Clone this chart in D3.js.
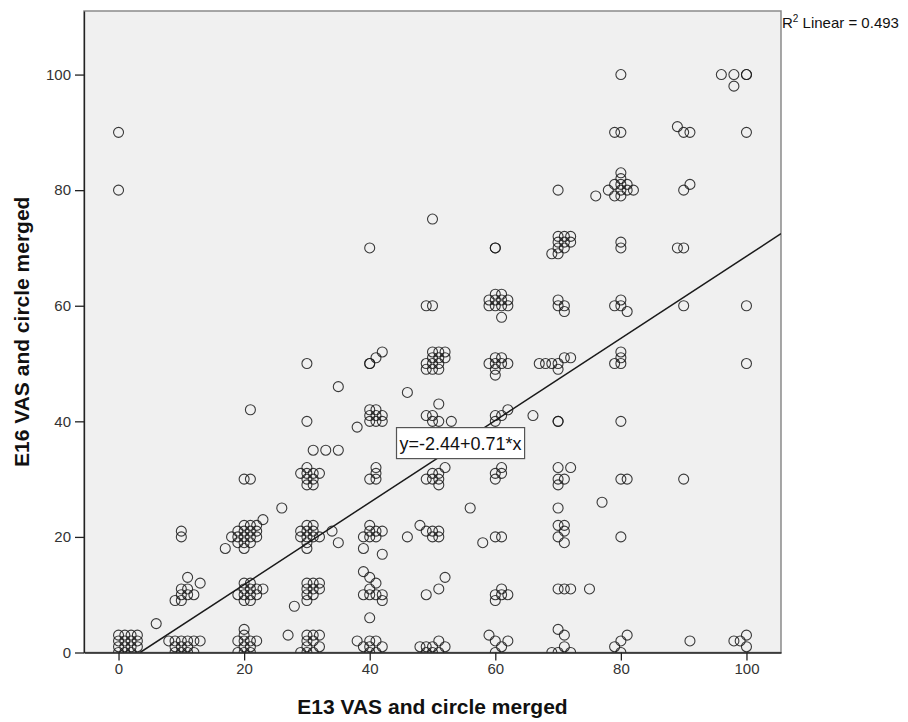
<!DOCTYPE html>
<html>
<head>
<meta charset="utf-8">
<script src="https://cdn.jsdelivr.net/npm/d3@7"></script>
<style>
  body { margin: 0; background: #fff; }
  svg { display: block; font-family: Arial, "Liberation Sans", sans-serif; }
</style>
</head>
<body>
<svg id="chart" width="908" height="722"></svg>
<script>
// E13 vs E16 VAS (merged), one [x, y] pair per respondent
var points = [
  [0,90],[0,80],
  [0,0],[0,1],[0,2],[0,3],[1,0],[1,1],[1,2],[1,3],[2,0],[2,1],[2,2],[2,3],[3,1],[3,2],[3,3],
  [6,5],
  [8,2],[9,0],[9,1],[9,2],[10,0],[10,1],[10,2],[11,0],[11,1],[11,2],[12,0],[12,2],[13,2],
  [9,9],[10,9],[10,10],[10,11],[11,11],[11,13],[12,10],[13,12],[11,10],
  [10,20],[10,21],
  [19,0],[20,0],[21,0],[19,2],[20,1],[20,2],[21,1],[21,2],[22,2],[20,3],[20,4],
  [19,10],[20,9],[20,10],[20,11],[21,10],[21,11],[21,12],[22,10],[22,11],[23,11],[21,9],[20,12],
  [17,18],[18,20],[19,19],[19,20],[19,21],[20,19],[20,20],[20,21],[20,22],[21,19],[21,20],
  [21,21],[21,22],[22,20],[22,21],[22,22],[23,23],[20,18],
  [20,30],[21,30],[21,42],[26,25],[27,3],[28,8],
  [29,0],[30,0],[30,1],[30,2],[31,0],[31,2],[31,3],[32,1],[32,3],[30,3],
  [30,9],[30,10],[30,11],[31,10],[31,11],[31,12],[32,11],[32,12],[30,12],
  [29,20],[30,18],[30,19],[30,20],[30,21],[30,22],[31,20],[31,21],[31,22],[32,20],[29,21],
  [29,31],[30,29],[30,30],[30,31],[30,32],[31,29],[31,30],[31,31],[32,31],
  [30,40],[30,50],[31,35],[33,35],[35,35],[35,46],[34,21],[35,19],
  [38,39],[40,40],[40,41],[40,42],[41,40],[41,41],[41,42],[42,40],[42,41],
  [40,30],[41,30],[41,31],[41,32],
  [39,20],[40,20],[40,21],[40,22],[41,20],[41,21],[42,21],[39,18],[42,17],[39,14],
  [40,13],[41,12],[39,10],[40,10],[41,10],[42,10],[42,9],[40,11],[40,6],
  [38,2],[39,1],[40,0],[40,2],[41,0],[41,2],[42,1],[40,1],
  [40,70],[40,50],[40,50],[41,51],[42,52],[46,45],
  [49,41],[50,40],[50,41],[51,40],[51,43],[53,40],
  [49,30],[50,30],[51,30],[51,31],[52,32],[51,29],[50,31],
  [46,20],[48,22],[49,21],[50,20],[50,21],[51,20],[51,21],
  [49,10],[51,11],[52,13],
  [48,1],[49,1],[50,0],[50,1],[51,0],[51,2],[52,1],[49,0],
  [49,49],[49,50],[50,49],[50,50],[50,51],[50,52],[51,50],[51,51],[51,52],[52,51],[52,52],[51,49],
  [49,60],[50,60],[50,75],
  [56,25],
  [60,70],[60,70],
  [59,60],[59,61],[60,60],[60,61],[60,62],[61,60],[61,61],[61,62],[62,60],[62,61],[61,58],
  [59,50],[60,48],[60,49],[60,50],[60,51],[61,50],[61,51],[62,50],
  [60,40],[60,41],[61,41],[62,42],
  [60,30],[60,31],[61,31],[61,32],
  [58,19],[60,20],[61,20],
  [60,9],[60,10],[61,11],[62,10],[61,10],
  [59,3],[60,2],[62,2],[61,1],[60,0],
  [66,41],
  [70,80],
  [69,69],[70,69],[70,70],[70,71],[70,72],[71,70],[71,71],[71,72],[72,71],[72,72],
  [70,60],[70,61],[71,60],[71,59],
  [67,50],[68,50],[69,50],[70,49],[70,50],[71,51],[72,51],
  [70,40],[70,40],
  [70,32],[72,32],[70,30],[71,30],[70,29],
  [70,25],[77,26],
  [70,22],[71,22],[71,21],[70,20],[71,19],
  [70,11],[71,11],[72,11],[75,11],
  [70,4],[71,3],[71,1],[69,0],[70,0],[72,0],
  [80,100],[79,90],[80,90],[76,79],
  [78,80],[79,79],[79,81],[80,79],[80,80],[80,81],[80,82],[80,83],[81,81],[82,80],[81,80],
  [80,70],[80,71],
  [79,60],[80,60],[80,61],[81,59],
  [79,50],[80,50],[80,51],[80,52],
  [80,40],[80,30],[81,30],[80,20],
  [80,2],[81,3],[79,1],[80,0],
  [89,91],[90,90],[91,90],[90,80],[91,81],[89,70],[90,70],[90,60],[90,30],[91,2],
  [96,100],[98,100],[98,98],[100,100],[100,100],[100,90],[100,60],[100,50],
  [98,2],[99,2],[100,3],[100,1]
];

var xTicks = [0, 20, 40, 60, 80, 100];
var yTicks = [0, 20, 40, 60, 80, 100];

var xTitle = 'E13 VAS and circle merged';
var yTitle = 'E16 VAS and circle merged';

// linear fit as printed on the chart
var fitIntercept = -2.44;
var fitSlope = 0.71;
var fitR2 = 0.493;

var PLOT_LEFT = 84;
var PLOT_RIGHT = 781;
var PLOT_TOP = 11;
var PLOT_BOTTOM = 652.5;

var svg = d3.select('#chart');

var x = d3.scaleLinear().domain([-5.5, 105.5]).range([PLOT_LEFT, PLOT_RIGHT]);
var y = d3.scaleLinear().domain([0, 111]).range([PLOT_BOTTOM, PLOT_TOP]);

svg.append('rect')
  .attr('x', PLOT_LEFT)
  .attr('y', PLOT_TOP)
  .attr('width', PLOT_RIGHT - PLOT_LEFT)
  .attr('height', PLOT_BOTTOM - PLOT_TOP)
  .style('fill', '#f0f0f0')
  .style('stroke', '#8a8a8a')
  .style('stroke-width', 1.5);

svg.append('clipPath').attr('id', 'plotclip')
  .append('rect')
  .attr('x', PLOT_LEFT)
  .attr('y', PLOT_TOP)
  .attr('width', PLOT_RIGHT - PLOT_LEFT)
  .attr('height', PLOT_BOTTOM - PLOT_TOP);

// axes
var xAxis = svg.append('g')
  .attr('transform', 'translate(0,' + PLOT_BOTTOM + ')')
  .call(d3.axisBottom(x).tickValues(xTicks).tickSize(8).tickPadding(3).tickSizeOuter(0));
var yAxis = svg.append('g')
  .attr('transform', 'translate(' + PLOT_LEFT + ',0)')
  .call(d3.axisLeft(y).tickValues(yTicks).tickSize(9).tickPadding(4).tickSizeOuter(0));

[xAxis, yAxis].forEach(function(g) {
  g.select('.domain').style('stroke', '#222').style('stroke-width', 1.3);
  g.selectAll('.tick line').style('stroke', '#222').style('stroke-width', 1.3);
  g.selectAll('.tick text')
    .style('font-family', 'Arial, "Liberation Sans", sans-serif')
    .style('font-size', '15px')
    .style('fill', '#333');
});

// data points
svg.append('g')
  .attr('clip-path', 'url(#plotclip)')
  .selectAll('circle')
  .data(points)
  .enter().append('circle')
  .attr('cx', function(d) { return x(d[0]); })
  .attr('cy', function(d) { return y(d[1]); })
  .attr('r', 5)
  .style('fill', 'none')
  .style('stroke', '#1a1a1a')
  .style('stroke-opacity', 0.85)
  .style('stroke-width', 1.1);

// fit line, from where it crosses y=0 to the right edge
var fx0 = -fitIntercept / fitSlope;
var fx1 = x.domain()[1];
svg.append('line')
  .attr('clip-path', 'url(#plotclip)')
  .attr('x1', x(fx0))
  .attr('y1', y(fitIntercept + fitSlope * fx0))
  .attr('x2', x(fx1))
  .attr('y2', y(fitIntercept + fitSlope * fx1))
  .style('stroke', '#1a1a1a')
  .style('stroke-width', 1.5);

// equation label at the middle of the fit line
var fxm = (fx0 + fx1) / 2;
var eq = svg.append('g')
  .attr('transform', 'translate(' + x(fxm) + ',' + y(fitIntercept + fitSlope * fxm) + ')');
var eqText = 'y=' + fitIntercept.toFixed(2) + '+' + fitSlope.toFixed(2) + '*x';
var eqLabel = eq.append('text')
  .attr('text-anchor', 'middle')
  .attr('dy', '0.36em')
  .style('font-size', '18px')
  .style('fill', '#111')
  .text(eqText);
var bb = eqLabel.node().getBBox();
eq.insert('rect', 'text')
  .attr('x', bb.x - 3)
  .attr('y', -15.5)
  .attr('width', bb.width + 6)
  .attr('height', 31)
  .style('fill', '#fff')
  .style('stroke', '#555')
  .style('stroke-width', 1.2);

// R squared note, top right outside the frame
var r2 = svg.append('text')
  .attr('x', PLOT_RIGHT + 1)
  .attr('y', PLOT_TOP + 17)
  .style('font-size', '15px')
  .style('fill', '#111');
r2.append('tspan').text('R');
r2.append('tspan').attr('dy', -6).style('font-size', '10px').text('2');
r2.append('tspan').attr('dy', 6).text(' Linear = ' + fitR2.toFixed(3));

// axis titles
svg.append('text')
  .attr('x', (PLOT_LEFT + PLOT_RIGHT) / 2)
  .attr('y', 714)
  .attr('text-anchor', 'middle')
  .style('font-size', '21px')
  .style('font-weight', 'bold')
  .style('fill', '#111')
  .text(xTitle);

svg.append('text')
  .attr('transform', 'translate(29,' + ((PLOT_TOP + PLOT_BOTTOM) / 2) + ') rotate(-90)')
  .attr('text-anchor', 'middle')
  .style('font-size', '21px')
  .style('font-weight', 'bold')
  .style('fill', '#111')
  .text(yTitle);
</script>
</body>
</html>
